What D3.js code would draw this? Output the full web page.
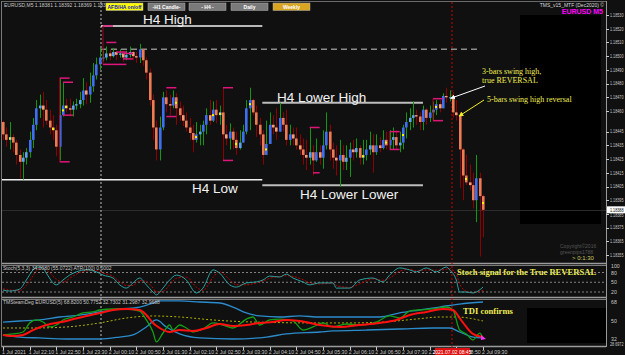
<!doctype html>
<html>
<head>
<style>
    body { margin: 0; background: #101010; }
    svg { display: block; font-family: 'Liberation Sans', Arial, sans-serif; }
</style>
</head>
<body>
    <div class="container"></div>

    <script src="https://d3js.org/d3.v7.min.js"></script>

    <script>
        // EURUSD M5, 1 Jul 21:30 -> 2 Jul 09:30 (bar index 0..144)
        const firstOpen = 1.18452
        const closes = [
            1.18443, 1.18439, 1.18441, 1.18437, 1.18428, 1.18423, 1.18426, 1.18430, 1.18439, 1.18450,
            1.18462, 1.18464, 1.18461, 1.18453, 1.18448, 1.18446, 1.18434, 1.18457, 1.18464, 1.18462,
            1.18461, 1.18464, 1.18465, 1.18468, 1.18475, 1.18472, 1.18478, 1.18486, 1.18494, 1.18499,
            1.18499, 1.18502, 1.18500, 1.18503, 1.18501, 1.18502, 1.18499, 1.18501, 1.18503, 1.18500,
            1.18499, 1.18505, 1.18497, 1.18488, 1.18468, 1.18448, 1.18432, 1.18448, 1.18470, 1.18465,
            1.18464, 1.18470, 1.18462, 1.18457, 1.18453, 1.18448, 1.18444, 1.18439, 1.18443, 1.18445,
            1.18450, 1.18457, 1.18453, 1.18461, 1.18457, 1.18459, 1.18443, 1.18440, 1.18445, 1.18439,
            1.18433, 1.18437, 1.18445, 1.18462, 1.18468, 1.18459, 1.18450, 1.18443, 1.18428, 1.18436,
            1.18450, 1.18448, 1.18445, 1.18455, 1.18450, 1.18439, 1.18443, 1.18440, 1.18435, 1.18432,
            1.18428, 1.18426, 1.18430, 1.18424, 1.18430, 1.18426, 1.18435, 1.18445, 1.18432, 1.18426,
            1.18424, 1.18428, 1.18423, 1.18426, 1.18432, 1.18430, 1.18433, 1.18426, 1.18428, 1.18432,
            1.18435, 1.18430, 1.18435, 1.18433, 1.18439, 1.18435, 1.18439, 1.18441, 1.18435, 1.18437,
            1.18448, 1.18452, 1.18455, 1.18457, 1.18456, 1.18452, 1.18461, 1.18455, 1.18459, 1.18461,
            1.18465, 1.18462, 1.18471, 1.18470, 1.18470, 1.18459, 1.18457, 1.18432, 1.18413, 1.18408,
            1.18406, 1.18395, 1.18411, 1.18398, 1.18388
        ]
        const highs = [
            1.18453, 1.18448, 1.18452, 1.18443, 1.18439, 1.18432, 1.18430, 1.18433, 1.18445, 1.18455,
            1.18468, 1.18472, 1.18474, 1.18468, 1.18461, 1.18457, 1.18450, 1.18484, 1.18481, 1.18469,
            1.18469, 1.18467, 1.18469, 1.18474, 1.18484, 1.18481, 1.18488, 1.18495, 1.18499, 1.18506,
            1.18504, 1.18507, 1.18505, 1.18506, 1.18504, 1.18505, 1.18504, 1.18504, 1.18507, 1.18504,
            1.18503, 1.18509, 1.18503, 1.18499, 1.18491, 1.18472, 1.18453, 1.18456, 1.18474, 1.18475,
            1.18472, 1.18475, 1.18473, 1.18467, 1.18464, 1.18459, 1.18455, 1.18450, 1.18452, 1.18450,
            1.18453, 1.18462, 1.18468, 1.18467, 1.18468, 1.18464, 1.18477, 1.18450, 1.18451, 1.18448,
            1.18445, 1.18446, 1.18450, 1.18468, 1.18477, 1.18469, 1.18464, 1.18455, 1.18446, 1.18453,
            1.18459, 1.18457, 1.18462, 1.18466, 1.18459, 1.18461, 1.18450, 1.18448, 1.18448, 1.18443,
            1.18440, 1.18439, 1.18448, 1.18435, 1.18440, 1.18435, 1.18446, 1.18459, 1.18450, 1.18437,
            1.18435, 1.18439, 1.18435, 1.18435, 1.18437, 1.18439, 1.18440, 1.18435, 1.18439, 1.18439,
            1.18445, 1.18443, 1.18443, 1.18441, 1.18446, 1.18445, 1.18446, 1.18448, 1.18446, 1.18445,
            1.18450, 1.18459, 1.18462, 1.18467, 1.18461, 1.18459, 1.18464, 1.18462, 1.18464, 1.18467,
            1.18468, 1.18468, 1.18473, 1.18477, 1.18475, 1.18474, 1.18468, 1.18459, 1.18433, 1.18428,
            1.18421, 1.18415, 1.18428, 1.18415, 1.18399
        ]
        const lows = [
            1.18439, 1.18434, 1.18432, 1.18430, 1.18421, 1.18411, 1.18410, 1.18421, 1.18426, 1.18433,
            1.18446, 1.18455, 1.18448, 1.18450, 1.18443, 1.18439, 1.18427, 1.18424, 1.18456, 1.18459,
            1.18456, 1.18456, 1.18461, 1.18462, 1.18464, 1.18465, 1.18466, 1.18474, 1.18483, 1.18490,
            1.18496, 1.18497, 1.18497, 1.18499, 1.18497, 1.18499, 1.18496, 1.18497, 1.18499, 1.18497,
            1.18495, 1.18495, 1.18493, 1.18483, 1.18464, 1.18439, 1.18424, 1.18424, 1.18446, 1.18459,
            1.18457, 1.18462, 1.18450, 1.18453, 1.18449, 1.18445, 1.18439, 1.18430, 1.18437, 1.18435,
            1.18435, 1.18443, 1.18450, 1.18452, 1.18451, 1.18450, 1.18424, 1.18435, 1.18432, 1.18432,
            1.18428, 1.18432, 1.18437, 1.18443, 1.18446, 1.18457, 1.18441, 1.18435, 1.18421, 1.18430,
            1.18439, 1.18443, 1.18439, 1.18446, 1.18445, 1.18435, 1.18435, 1.18435, 1.18432, 1.18428,
            1.18421, 1.18417, 1.18421, 1.18413, 1.18423, 1.18421, 1.18418, 1.18432, 1.18424, 1.18418,
            1.18413, 1.18405, 1.18417, 1.18417, 1.18412, 1.18424, 1.18426, 1.18421, 1.18421, 1.18424,
            1.18428, 1.18415, 1.18428, 1.18430, 1.18432, 1.18432, 1.18432, 1.18432, 1.18432, 1.18430,
            1.18432, 1.18440, 1.18446, 1.18448, 1.18450, 1.18446, 1.18446, 1.18450, 1.18452, 1.18453,
            1.18457, 1.18459, 1.18464, 1.18466, 1.18467, 1.18455, 1.18453, 1.18404, 1.18395, 1.18406,
            1.18402, 1.18389, 1.18379, 1.18354, 1.18368
        ]
        const yellowDots = [2, 15, 18, 19, 52, 58, 63, 65, 70, 74, 79, 108, 115, 120, 130, 139, 144]

        // swing markers: [fromBar, toBar, price]
        const swingLines = [
            [17, 20, 1.18484], [18, 21, 1.18481], [18, 21, 1.18457], [17, 20, 1.18423],
            [30, 33, 1.18522], [31, 34, 1.18510], [34, 37, 1.18503], [36, 39, 1.18502],
            [36, 39, 1.18498], [30, 37, 1.18494], [49, 52, 1.18477], [49, 52, 1.18456],
            [66, 69, 1.18477], [66, 69, 1.18424], [92, 95, 1.18448], [93, 95, 1.18415],
            [116, 119, 1.18445], [116, 119, 1.18432], [129, 132, 1.18469], [129, 132, 1.18453]
        ]
        const swingVerticals = [[30, 1.18522, 1.18494], [17, 1.18484, 1.18423], [129, 1.18469, 1.18453], [116, 1.18445, 1.18432]]

        // H4 levels: [label, fromBar, toBar, price]
        const h4Levels = [
            ['H4 High', 29.4, 77.8, 1.18522],
            ['H4 Lower High', 77.8, 126, 1.18466],
            ['H4 Low', -0.3, 77.8, 1.18410],
            ['H4 Lower Lower', 77.8, 126, 1.18406]
        ]
        const dashedLevel = [29.4, 143, 1.18505]
        const h4StartBar = 29.4
        const cursorBar = 134.7
        const lastPrice = 1.18388

        const priceTicks = [1.18530, 1.18520, 1.18510, 1.18500, 1.18490, 1.18480, 1.18470, 1.18460,
            1.18445, 1.18435, 1.18425, 1.18415, 1.18405, 1.18395, 1.18385, 1.18375, 1.18365, 1.18355]
        const timeLabels = ['1 Jul 2021', '1 Jul 22:10', '1 Jul 22:50', '1 Jul 23:30', '2 Jul 00:10', '2 Jul 00:50',
            '2 Jul 01:30', '2 Jul 02:10', '2 Jul 02:50', '2 Jul 03:30', '2 Jul 04:10', '2 Jul 04:50', '2 Jul 05:30',
            '2 Jul 06:10', '2 Jul 06:50', '2 Jul 07:30', '2 Jul 08:10', '2 Jul 08:50', '2 Jul 09:30']

        // Stochastic (5,3,3)
        const stochIdx = [0, 2, 5, 7, 9, 10, 12, 13, 16, 18, 20, 22, 25, 28, 30, 33, 35, 37, 39, 41, 43, 45, 46, 48, 50,
            52, 55, 58, 60, 63, 65, 68, 70, 73, 76, 78, 80, 83, 85, 87, 90, 92, 95, 99, 100, 104, 107, 111, 114, 116,
            119, 122, 124, 127, 130, 133, 134, 136, 137, 139, 141, 144]
        const stochK = [26, 23, 29, 57, 88, 97, 94, 78, 42, 57, 72, 82, 88, 82, 72, 63, 42, 32, 48, 63, 42, 20, 11, 32, 57,
            72, 57, 17, 32, 88, 78, 42, 35, 48, 51, 57, 69, 66, 75, 63, 51, 42, 48, 48, 32, 32, 57, 63, 51, 72,
            94, 88, 82, 94, 82, 97, 88, 57, 20, 20, 17, 35]
        const stochD = [30, 26, 25, 40, 70, 85, 95, 88, 60, 50, 62, 75, 85, 86, 78, 68, 52, 40, 40, 55, 52, 32, 20, 22, 42,
            62, 66, 35, 25, 65, 82, 58, 42, 42, 48, 54, 62, 68, 70, 68, 58, 48, 45, 47, 40, 34, 45, 60, 56, 63,
            84, 90, 85, 88, 87, 90, 92, 75, 45, 22, 18, 25]
        const stochLevels = [80, 50, 20]

        // TDI: [bar, value]
        const tdiUpper = [[0, 49.0], [5, 50.0], [11, 51.0], [17, 53.9], [23, 55.8], [29, 58.8], [35, 61.7], [41, 63.6],
            [45, 67.5], [47, 69.5], [53, 69.5], [59, 68.5], [65, 67.5], [69, 63.6], [73, 57.8], [77, 54.9], [83, 53.9],
            [89, 54.9], [95, 53.9], [104, 53.9], [113, 53.9], [119, 57.8], [125, 60.7], [131, 63.6], [137, 66.5], [144, 68.5]]
        const tdiLower = [[0, 36.4], [5, 34.4], [11, 33.5], [19, 32.5], [29, 32.5], [35, 34.4], [39, 36.4], [43, 44.2],
            [46, 51.0], [49, 44.2], [53, 37.4], [59, 33.5], [69, 32.5], [79, 34.4], [85, 37.4], [95, 39.3], [99, 40.3],
            [109, 41.2], [119, 42.2], [129, 43.2], [134, 43.2], [137, 39.3], [141, 34.4], [144, 33.5]]
        const tdiMid = [[0, 43.2], [9, 43.2], [19, 44.2], [29, 48.1], [37, 52.9], [45, 54.9], [53, 53.9], [63, 51.0],
            [75, 49.0], [95, 48.1], [104, 48.1], [114, 49.0], [124, 51.9], [131, 53.9], [136, 53.9], [144, 50.0]]
        const tdiSignal = [[0, 36.4], [3, 35.4], [6, 36.4], [9, 41.2], [13, 46.1], [19, 50.0], [25, 54.9], [29, 57.8],
            [33, 60.7], [37, 61.7], [41, 60.7], [43, 55.8], [45, 48.1], [47, 43.2], [50, 39.3], [53, 41.2], [57, 40.3],
            [61, 43.2], [65, 47.1], [69, 45.1], [73, 46.1], [77, 48.1], [81, 49.0], [85, 51.0], [89, 50.0], [95, 46.1],
            [101, 44.2], [107, 46.1], [113, 48.1], [118, 51.0], [122, 55.8], [127, 58.8], [132, 61.7], [135, 60.7],
            [137, 52.9], [139, 44.2], [141, 37.4], [144, 34.4]]
        const tdiRsi = [[0, 36.4], [3, 37.4], [6, 39.3], [8, 48.1], [10, 51.0], [12, 49.0], [14, 44.2], [16, 46.1],
            [18, 51.0], [21, 53.9], [24, 57.8], [27, 58.8], [29, 60.7], [33, 61.7], [37, 61.7], [41, 59.7], [43, 51.0],
            [45, 39.3], [46, 29.6], [48, 38.3], [50, 46.1], [51, 41.2], [53, 46.1], [55, 43.2], [57, 39.3], [60, 42.2],
            [63, 48.1], [66, 46.1], [69, 43.2], [73, 51.9], [75, 53.9], [77, 46.1], [80, 51.0], [83, 51.9], [87, 50.0],
            [90, 41.2], [93, 44.2], [96, 48.1], [99, 44.2], [103, 47.1], [107, 46.1], [112, 49.0], [116, 54.9],
            [119, 52.9], [122, 59.7], [125, 60.7], [129, 61.7], [133, 63.6], [135, 60.7], [137, 41.2], [139, 37.4],
            [141, 31.5], [143, 38.3], [144, 33.5]]
        const tdiTicks = [[68, '68'], [50, '50'], [32, '32']]

        const svg = d3.select('.container').append('svg').attr('width', 625).attr('height', 355)
        svg.append('rect').attr('width', 625).attr('height', 355).attr('fill', '#101010')

        const x = d3.scaleLinear().domain([0, 181]).range([3, 606.3])
        const y = d3.scaleLinear().domain([1.18355, 1.18530]).range([255.1, 15])
        const yStoch = d3.scaleLinear().domain([0, 100]).range([298.5, 266])
        const yTdi = d3.scaleLinear().domain([32, 68]).range([339.5, 302.5])

        const defs = svg.append('defs')
        const arrowHead = (id, color) => defs.append('marker').attr('id', id).attr('viewBox', '0 0 10 10')
            .attr('refX', 9).attr('refY', 5).attr('markerWidth', 5).attr('markerHeight', 5).attr('orient', 'auto')
            .append('path').attr('d', 'M0,0L10,5L0,10z').attr('fill', color)
        arrowHead('aw', '#ffffff')
        arrowHead('ay', '#f0f020')

        // black boxes behind the panels
        svg.append('rect').attr('x', 520).attr('y', 15).attr('width', 81).attr('height', 209).attr('fill', '#000')
        svg.append('rect').attr('x', 527).attr('y', 308).attr('width', 79).attr('height', 35).attr('fill', '#000')

        // panel frames
        const hline = (y0, x0, x1, color, w) => svg.append('line').attr('x1', x0).attr('x2', x1)
            .attr('y1', y0).attr('y2', y0).attr('stroke', color).attr('stroke-width', w)
        hline(1.5, 1, 606, '#6a6a6a', 1)
        hline(263.5, 1, 606, '#9a9a9a', 1.5)
        hline(265.5, 1, 606, '#7a7a7a', 1)
        hline(297.5, 1, 606, '#9a9a9a', 1.5)
        hline(299.5, 1, 606, '#7a7a7a', 1)
        hline(346.5, 1, 606, '#9a9a9a', 1.5)
        svg.append('line').attr('x1', 1.5).attr('x2', 1.5).attr('y1', 1).attr('y2', 347).attr('stroke', '#7a7a7a')
        svg.append('line').attr('x1', 606.5).attr('x2', 606.5).attr('y1', 1).attr('y2', 347).attr('stroke', '#9a9a9a')

        // last price line
        hline(Math.round(y(lastPrice)) + 0.5, 2, 606, '#2c2c2c', 1)

        // vertical separators
        svg.append('line').attr('x1', x(h4StartBar)).attr('x2', x(h4StartBar)).attr('y1', 2).attr('y2', 347)
            .attr('stroke', '#bdbdbd').attr('stroke-width', 1).attr('stroke-dasharray', '2,2')
        svg.append('line').attr('x1', x(cursorBar)).attr('x2', x(cursorBar)).attr('y1', 2).attr('y2', 347)
            .attr('stroke', '#d00000').attr('stroke-width', 1).attr('stroke-dasharray', '2,2')

        // H4 level lines
        svg.append('line').attr('x1', x(dashedLevel[0])).attr('x2', x(dashedLevel[1]))
            .attr('y1', y(dashedLevel[2])).attr('y2', y(dashedLevel[2]))
            .attr('stroke', '#8c8c8c').attr('stroke-width', 1.5).attr('stroke-dasharray', '6,4')
        svg.selectAll('.lvl').data(h4Levels).enter().append('line')
            .attr('x1', d => x(d[1])).attr('x2', d => x(d[2]))
            .attr('y1', d => y(d[3])).attr('y2', d => y(d[3]))
            .attr('stroke', (d, i) => i % 2 ? '#bdbdbd' : '#f0f0f0').attr('stroke-width', (d, i) => i % 2 ? 2 : 1.5)

        // candles
        const bars = closes.map((c, i) => {
            const o = i ? closes[i - 1] : firstOpen
            return { i, o, c, h: Math.max(highs[i], o, c), l: Math.min(lows[i], o, c) }
        })
        svg.selectAll('.wick').data(bars).enter().append('line')
            .attr('x1', d => Math.round(x(d.i)) + 0.5).attr('x2', d => Math.round(x(d.i)) + 0.5)
            .attr('y1', d => y(d.h)).attr('y2', d => y(d.l))
            .attr('stroke', d => d.c >= d.o ? '#0f9a0f' : '#8e0000').attr('stroke-width', 1)
        svg.selectAll('.body').data(bars).enter().append('rect')
            .attr('x', d => Math.round(x(d.i)) - 1).attr('width', 2.6)
            .attr('y', d => y(Math.max(d.o, d.c)))
            .attr('height', d => Math.max(1, y(Math.min(d.o, d.c)) - y(Math.max(d.o, d.c))))
            .attr('fill', d => {
                const big = Math.abs(d.c - d.o) > 0.00004
                if (d.c >= d.o) return big ? '#3d6ff0' : '#5aa6ee'
                return big ? '#f07a52' : '#ff9c72'
            })
        svg.selectAll('.dot').data(yellowDots).enter().append('rect')
            .attr('x', i => Math.round(x(i)) - 1).attr('y', i => y((bars[i].o + bars[i].c) / 2) - 1)
            .attr('width', 2).attr('height', 2).attr('fill', '#f5f500')

        // swing markers
        svg.selectAll('.sw').data(swingLines).enter().append('line')
            .attr('x1', d => x(d[0])).attr('x2', d => x(d[1]))
            .attr('y1', d => y(d[2])).attr('y2', d => y(d[2]))
            .attr('stroke', '#e0157c').attr('stroke-width', 1.5)
        svg.selectAll('.swv').data(swingVerticals).enter().append('line')
            .attr('x1', d => x(d[0])).attr('x2', d => x(d[0]))
            .attr('y1', d => y(d[1])).attr('y2', d => y(d[2]))
            .attr('stroke', '#a0001a').attr('stroke-width', 1)

        // H4 labels
        const lblPos = [[143, 24], [277, 102], [192, 193], [300, 199]]
        svg.selectAll('.lbl').data(h4Levels).enter().append('text')
            .attr('x', (d, i) => lblPos[i][0]).attr('y', (d, i) => lblPos[i][1])
            .attr('fill', '#f2f2f2').attr('font-size', 13.5).text(d => d[0])

        // annotations
        const serif = "'Liberation Serif', 'Times New Roman', serif"
        const note = (tx, ty, str, size, bold) => svg.append('text').attr('x', tx).attr('y', ty)
            .attr('fill', '#eeee50').attr('font-family', serif).attr('font-size', size)
            .attr('font-weight', bold ? 'bold' : 'normal').text(str)
        note(482, 74, '3-bars swing high,', 8)
        note(482, 83, 'true REVERSAL', 8)
        note(487, 102, '5-bars swing high reversal', 8)
        note(457, 275, 'Stoch signal for the True REVERSAL', 8.6, true)
        note(463, 314, 'TDI confirms', 8.6, true)
        svg.append('line').attr('x1', 485).attr('y1', 86).attr('x2', x(134.3)).attr('y2', y(1.18470) + 1)
            .attr('stroke', '#ffffff').attr('stroke-width', 1).attr('marker-end', 'url(#aw)')
        svg.append('line').attr('x1', 484).attr('y1', 100).attr('x2', x(136.8)).attr('y2', y(1.18457) + 1)
            .attr('stroke', '#f0f020').attr('stroke-width', 1).attr('marker-end', 'url(#ay)')

        // price axis
        const tiny = 5.2
        const axisText = sel => sel.attr('font-size', 4.6).attr('textLength', 13.5).attr('lengthAdjust', 'spacingAndGlyphs')
        svg.selectAll('.pt').data(priceTicks).enter().append('line')
            .attr('x1', 606).attr('x2', 609).attr('y1', d => Math.round(y(d)) + 0.5).attr('y2', d => Math.round(y(d)) + 0.5)
            .attr('stroke', '#c8c8c8')
        svg.selectAll('.pl').data(priceTicks.filter(d => Math.abs(y(d) - y(lastPrice)) > 5)).enter().append('text')
            .attr('x', 610).attr('y', d => y(d) + 1.8).attr('fill', '#c8c8c8')
            .call(axisText).text(d => d.toFixed(5))
        svg.append('rect').attr('x', 607).attr('y', y(lastPrice) - 3.5).attr('width', 18).attr('height', 7).attr('fill', '#ffffff')
        svg.append('text').attr('x', 610).attr('y', y(lastPrice) + 1.8).attr('fill', '#000')
            .call(axisText).text(lastPrice.toFixed(5))
        svg.append('text').attr('x', 610).attr('y', y(lastPrice) + 7.6).attr('fill', '#c8c8c8')
            .call(axisText).text((1.18385).toFixed(5))

        // stochastic window
        svg.selectAll('.sl').data(stochLevels).enter().append('line')
            .attr('x1', 2).attr('x2', 606).attr('y1', d => yStoch(d)).attr('y2', d => yStoch(d))
            .attr('stroke', '#b4b4b4').attr('stroke-width', 0.7).attr('stroke-dasharray', '2,2')
        const stochLine = d3.line().x(d => x(d[0])).y(d => yStoch(d[1])).curve(d3.curveMonotoneX)
        svg.append('path').attr('d', stochLine(stochIdx.map((b, k) => [b, stochD[k]])))
            .attr('fill', 'none').attr('stroke', '#c00000').attr('stroke-width', 1).attr('stroke-dasharray', '2,1.5')
        svg.append('path').attr('d', stochLine(stochIdx.map((b, k) => [b, stochK[k]])))
            .attr('fill', 'none').attr('stroke', '#2aa0a0').attr('stroke-width', 1)
        const stochTicks = [[100, '100'], [80, '80'], [50, '50'], [20, '20']]
        svg.selectAll('.stl').data(stochTicks).enter().append('text')
            .attr('x', 611).attr('y', d => yStoch(d[0]) + 2).attr('fill', '#c8c8c8').attr('font-size', tiny).text(d => d[1])

        // TDI window
        const tdiLine = d3.line().x(d => x(d[0])).y(d => yTdi(d[1])).curve(d3.curveMonotoneX)
        const tdiPath = (data, color, w, dash) => svg.append('path').attr('d', tdiLine(data)).attr('fill', 'none')
            .attr('stroke', color).attr('stroke-width', w).attr('stroke-dasharray', dash || null)
        tdiPath(tdiUpper, '#2b8ccc', 1.3)
        tdiPath(tdiLower, '#2b8ccc', 1.3)
        tdiPath(tdiMid, '#b0b000', 1, '2,2')
        tdiPath(tdiRsi, '#14a014', 1.3)
        tdiPath(tdiSignal, '#ff1010', 2)
        svg.append('path').attr('d', 'M481,335L486,339L481,340z').attr('fill', '#ff30ff')
        svg.selectAll('.tdl').data(tdiTicks).enter().append('text')
            .attr('x', 611).attr('y', d => yTdi(d[0]) + 1.5).attr('fill', '#c8c8c8').attr('font-size', tiny).text(d => d[1])
        svg.append('text').attr('x', 610).attr('y', 346).attr('fill', '#c8c8c8')
            .call(axisText).text('28.6972')

        // time axis
        svg.selectAll('.tt').data(timeLabels).enter().append('line')
            .attr('x1', (d, k) => Math.round(x(k * 8)) + 0.5).attr('x2', (d, k) => Math.round(x(k * 8)) + 0.5)
            .attr('y1', 347).attr('y2', 350).attr('stroke', '#c8c8c8')
        svg.selectAll('.tl').data(timeLabels).enter().append('text')
            .attr('x', (d, k) => x(k * 8) - 1).attr('y', 353.5).attr('fill', '#c8c8c8').attr('font-size', tiny).text(d => d)
        svg.append('rect').attr('x', x(cursorBar) - 17).attr('y', 348).attr('width', 35).attr('height', 7).attr('fill', '#e01010')
        svg.append('text').attr('x', x(cursorBar)).attr('y', 353.5).attr('text-anchor', 'middle')
            .attr('fill', '#ffffff').attr('font-size', 5).text('2021.07.02 08:45')

        // headers
        svg.append('text').attr('x', 4).attr('y', 7).attr('fill', '#c8c8c8').attr('font-size', 5)
            .text('EURUSD,M5  1.18381  1.18392  1.18369  1.18388')
        svg.append('text').attr('x', 3).attr('y', 270).attr('fill', '#c8c8c8').attr('font-size', 5)
            .text('Stoch(5,3,3) 34.0080 (55.0722)   ATR(100) 0.0002')
        svg.append('text').attr('x', 3).attr('y', 304).attr('fill', '#c8c8c8').attr('font-size', 5)
            .text('TMSteamDeg EURUSD(5) 68.8200 50.7752 32.7302 31.2987 32.9688')
        svg.append('text').attr('x', 604).attr('y', 7).attr('text-anchor', 'end').attr('fill', '#d8d8d8').attr('font-size', 5)
            .text('TMS_v15_MTF (Dec2020) ©')
        svg.append('text').attr('x', 603).attr('y', 14).attr('text-anchor', 'end').attr('fill', '#ff00ff')
            .attr('font-size', 7).attr('font-weight', 'bold').text('EURUSD M5')

        // buttons
        const buttons = [['AFB/HA on/off', 106, '#ffff00', '#1010c0'], ['-H1 Candle-', 148, '#7a7a7a', '#ffffff'],
            ['- H4 -', 189, '#7a7a7a', '#ffffff'], ['Daily', 231, '#7a7a7a', '#ffffff'], ['Weekly', 273, '#daa520', '#ffffff']]
        const btn = svg.selectAll('.btn').data(buttons).enter().append('g')
        btn.append('rect').attr('x', d => d[1]).attr('y', 3).attr('width', 37).attr('height', 7.5)
            .attr('fill', d => d[2]).attr('stroke', '#b0b0b0').attr('stroke-width', 0.5)
        btn.append('text').attr('x', d => d[1] + 18.5).attr('y', 8.8).attr('text-anchor', 'middle')
            .attr('fill', d => d[3]).attr('font-size', 5).attr('font-weight', 'bold').text(d => d[0])

        // corner info
        svg.append('text').attr('x', 560).attr('y', 248).attr('fill', '#555').attr('font-size', 5).text('Copyright©2016')
        svg.append('text').attr('x', 560).attr('y', 254).attr('fill', '#555').attr('font-size', 5).text('greenpips1788')
        svg.append('text').attr('x', 572).attr('y', 260).attr('fill', '#c8c860').attr('font-size', 6).text('> 0:1:30')
    </script>
</body>
</html>
